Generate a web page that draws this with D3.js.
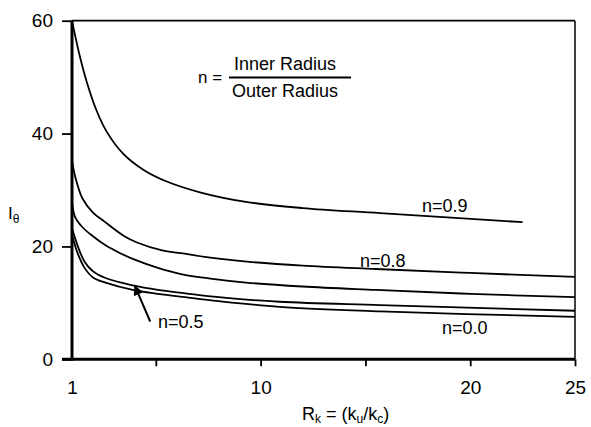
<!DOCTYPE html>
<html>
<head>
<meta charset="utf-8">
<script src="https://cdn.jsdelivr.net/npm/d3@7"></script>
<style>
  html, body { margin: 0; padding: 0; background: #fff; }
  svg { display: block; font-family: "Liberation Sans", Arial, sans-serif; }
</style>
</head>
<body>
<svg id="chart" width="591" height="427"></svg>
<script>
// Ratio of conductivities R_k on x, I_theta on y
const rk09 = [1, 1.06, 1.38, 1.7, 2.18, 2.66, 3.45, 4.4, 5.52, 7.1, 9.3, 12, 15.7, 22.5];
const it09 = [60, 58.9, 53.6, 49.2, 44.0, 40.3, 36.4, 33.6, 31.5, 29.6, 27.9, 26.8, 25.9, 24.3];

const rk08 = [1, 1.15, 1.5, 2, 2.55, 3.5, 4.1, 5.3, 6.2, 7.6, 9.35, 12, 15.5, 20, 25];
const it08 = [35.2, 32.4, 28.5, 26.0, 24.4, 21.8, 20.7, 19.3, 18.8, 18.0, 17.3, 16.6, 16.0, 15.3, 14.6];

const rkMid = [1, 1.15, 1.5, 2, 2.6, 3.3, 3.9, 5.1, 6.2, 7.6, 9.3, 12, 15.5, 20, 25];
const itMid = [27.9, 25.2, 23.4, 21.8, 20.2, 18.8, 17.8, 16.2, 15.1, 14.3, 13.6, 12.9, 12.3, 11.6, 11.0];

const rk05 = [1, 1.3, 1.6, 2, 2.6, 3.9, 5.1, 6.4, 8, 10.9, 15.7, 25];
const it05 = [23.2, 19.8, 17.3, 15.6, 14.4, 13.1, 12.3, 11.7, 11.0, 10.2, 9.6, 8.6];

const rk00 = [1, 1.3, 1.6, 2, 2.6, 3.9, 5.1, 6.4, 8, 10.9, 15.7, 25];
const it00 = [22.0, 18.5, 16.2, 14.5, 13.6, 12.3, 11.6, 11.0, 10.3, 9.3, 8.5, 7.5];

const xTickValues = [1, 5, 10, 15, 20, 25];
const xTickLabels = [1, 10, 20, 25];
const yTickValues = [0, 20, 40, 60];

const series = [
  { rk: rk09, it: it09 },
  { rk: rk08, it: it08 },
  { rk: rkMid, it: itMid },
  { rk: rk05, it: it05 },
  { rk: rk00, it: it00 }
];

const svg = d3.select("#chart");
const plotLeft = 72, plotRight = 575, plotTop = 20.7, plotBottom = 359.3;

const x = d3.scaleLinear().domain([1, 25]).range([plotLeft, plotRight]);
const y = d3.scaleLinear().domain([0, 60]).range([plotBottom, plotTop]);

// frame: thin top and right edges
svg.append("line").attr("x1", plotLeft).attr("x2", plotRight).attr("y1", plotTop).attr("y2", plotTop)
  .attr("stroke", "#000").attr("stroke-width", 1.8);
svg.append("line").attr("x1", plotRight).attr("x2", plotRight).attr("y1", plotTop).attr("y2", plotBottom)
  .attr("stroke", "#000").attr("stroke-width", 1.5);

// curves
const line = d3.line()
  .x(d => x(d[0]))
  .y(d => y(d[1]))
  .curve(d3.curveCatmullRom.alpha(0.5));

svg.append("g").selectAll("path")
  .data(series)
  .join("path")
  .attr("d", s => line(s.rk.map((v, i) => [v, s.it[i]])))
  .attr("fill", "none")
  .attr("stroke", "#000")
  .attr("stroke-width", 1.8);

// x axis
const xAxis = d3.axisBottom(x)
  .tickValues(xTickValues)
  .tickSize(7)
  .tickSizeOuter(0)
  .tickPadding(14)
  .tickFormat(d => xTickLabels.includes(d) ? d : "");
const gx = svg.append("g").attr("transform", `translate(0,${plotBottom})`).call(xAxis);
gx.select(".domain").attr("stroke-width", 3).attr("d", `M${plotLeft - 10},0H${plotRight}`);
gx.selectAll(".tick line").attr("stroke-width", 1.8)
  .attr("display", d => d === 1 ? "none" : null);
gx.selectAll(".tick text").attr("font-size", 19).attr("font-family", "Liberation Sans, Arial, sans-serif").attr("fill", "#000");

// y axis
const yAxis = d3.axisLeft(y)
  .tickValues(yTickValues)
  .tickSize(10)
  .tickSizeOuter(0)
  .tickPadding(9);
const gy = svg.append("g").attr("transform", `translate(${plotLeft},0)`).call(yAxis);
gy.select(".domain").attr("stroke-width", 3).attr("d", `M0,${plotTop}V${plotBottom + 1.5}`);
gy.selectAll(".tick line").attr("stroke-width", 1.8);
gy.selectAll(".tick text").attr("font-size", 19).attr("font-family", "Liberation Sans, Arial, sans-serif").attr("fill", "#000");

// axis titles
const yTitle = svg.append("text").attr("x", 8).attr("y", 219).attr("font-size", 17);
yTitle.append("tspan").text("I");
yTitle.append("tspan").attr("dy", 4).attr("font-size", 12).text("θ");

const xTitle = svg.append("text").attr("x", 302).attr("y", 420).attr("font-size", 18);
xTitle.append("tspan").text("R");
xTitle.append("tspan").attr("dy", 3).attr("font-size", 12).text("k");
xTitle.append("tspan").attr("dy", -3).text(" = (k");
xTitle.append("tspan").attr("dy", 3).attr("font-size", 12).text("u");
xTitle.append("tspan").attr("dy", -3).text("/k");
xTitle.append("tspan").attr("dy", 3).attr("font-size", 12).text("c");
xTitle.append("tspan").attr("dy", -3).text(")");

// definition of n
svg.append("text").attr("x", 198).attr("y", 83).attr("font-size", 17).text("n =");
svg.append("text").attr("x", 285).attr("y", 70).attr("font-size", 18).attr("text-anchor", "middle").text("Inner Radius");
svg.append("line").attr("x1", 229).attr("x2", 351).attr("y1", 77.5).attr("y2", 77.5)
  .attr("stroke", "#000").attr("stroke-width", 2);
svg.append("text").attr("x", 285).attr("y", 97).attr("font-size", 18).attr("text-anchor", "middle").text("Outer Radius");

// curve labels
const labels = [
  { t: "n=0.9", rk: 17.7, v: 26.1 },
  { t: "n=0.8", rk: 14.74, v: 16.4 },
  { t: "n=0.5", rk: 5.1, v: 5.6 },
  { t: "n=0.0", rk: 18.65, v: 4.5 }
];
svg.append("g").selectAll("text").data(labels).join("text")
  .attr("x", d => x(d.rk)).attr("y", d => y(d.v))
  .attr("font-size", 18).text(d => d.t);

// arrow to the n=0.5 curve
const tail = [4.73, 6.7], tip = [4.0, 13.0];
svg.append("defs").append("marker")
  .attr("id", "head").attr("viewBox", "0 0 10 10")
  .attr("refX", 9).attr("refY", 5)
  .attr("markerWidth", 5.5).attr("markerHeight", 5)
  .attr("markerUnits", "strokeWidth")
  .attr("orient", "auto")
  .append("path").attr("d", "M0,0L10,5L0,10Z").attr("fill", "#000");
svg.append("line")
  .attr("x1", x(tail[0])).attr("y1", y(tail[1]))
  .attr("x2", x(tip[0])).attr("y2", y(tip[1]))
  .attr("stroke", "#000").attr("stroke-width", 2)
  .attr("marker-end", "url(#head)");
</script>
</body>
</html>
